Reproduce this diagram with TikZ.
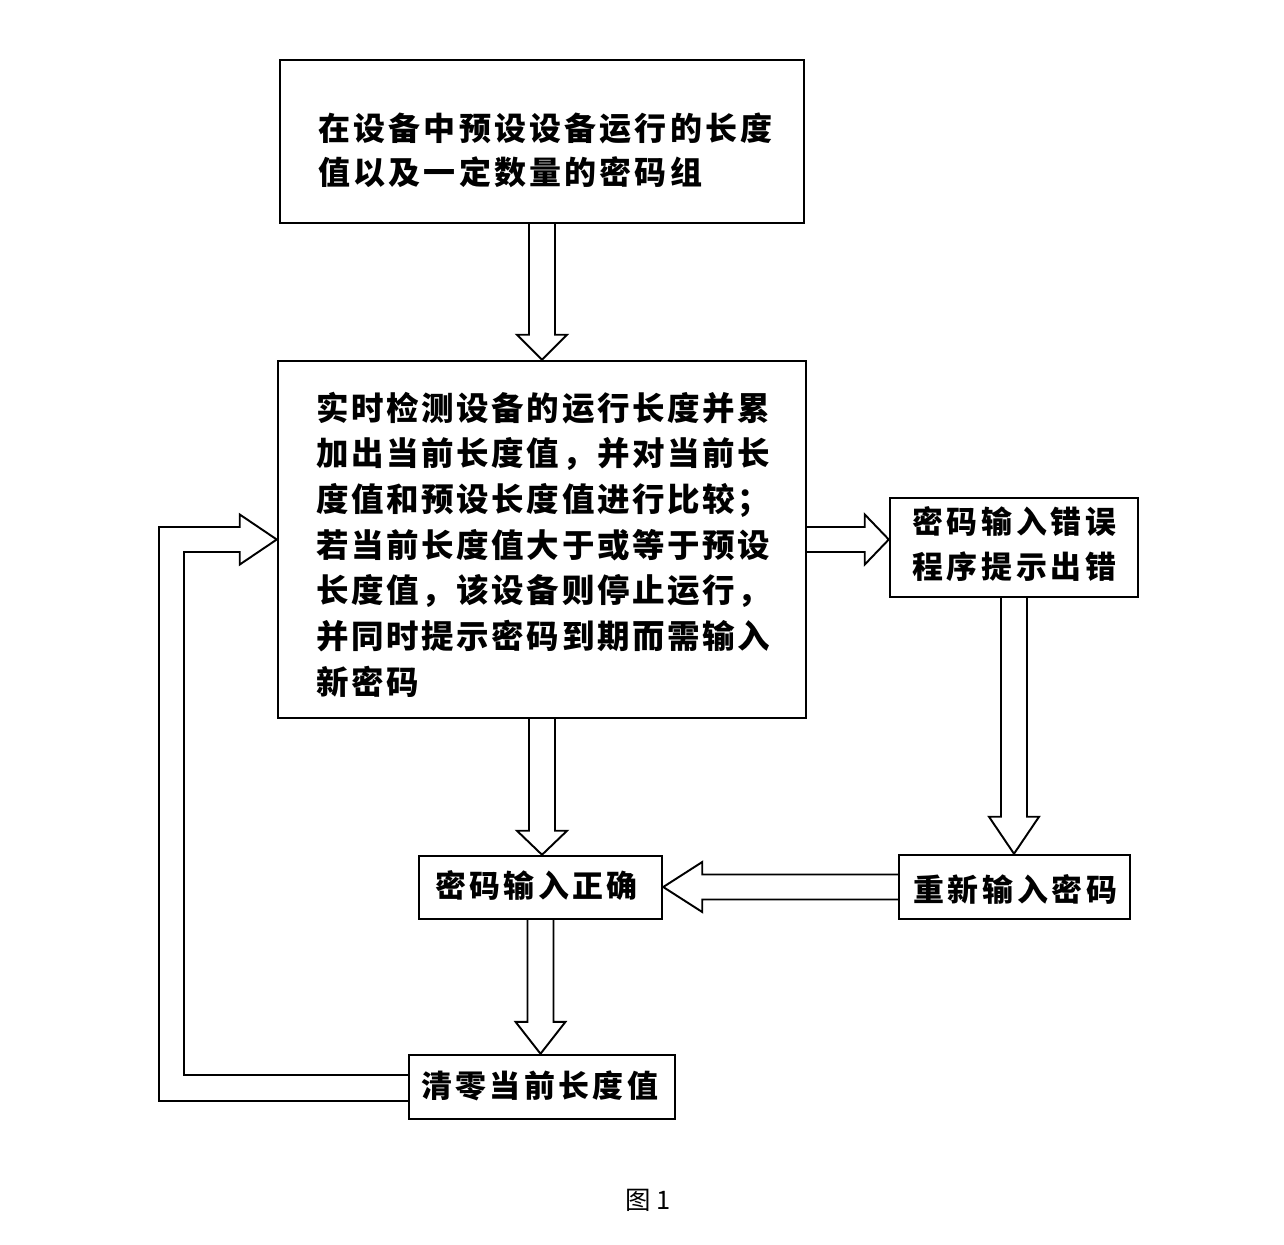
\documentclass[tikz,border=0pt]{standalone}
\usepackage{fontspec}
\newfontfamily\cjk{Noto Sans CJK SC}
\usetikzlibrary{calc}
\def\px{0.02cm}
\tikzset{
  box/.style={draw, line width=1.4pt, fill=white, inner sep=0pt},
  txt/.style={inner sep=0pt, anchor=west, align=left},
  harrow/.style={draw, line width=1.1pt, fill=white, line join=miter},
}
% vertical down hollow arrow: #1 start, #2 tip, #3 head length
\newcommand\darr[3]{%
  \draw[harrow] ($(#1)+(-13,0)$) -- ($(#2)+(-13,-#3)$) -- ($(#2)+(-25,-#3)$) -- (#2)
    -- ($(#2)+(25,-#3)$) -- ($(#2)+(13,-#3)$) -- ($(#1)+(13,0)$);}
% horizontal hollow arrow: #1 start, #2 tip, #3 signed head length (negative for rightwards)
\newcommand\harr[3]{%
  \draw[harrow] ($(#1)+(0,-12.5)$) -- ($(#2)+(#3,-12.5)$) -- ($(#2)+(#3,-25)$) -- (#2)
    -- ($(#2)+(#3,25)$) -- ($(#2)+(#3,12.5)$) -- ($(#1)+(0,12.5)$);}
\begin{document}
\begin{tikzpicture}[x=0.02cm, y=-0.02cm]
\useasboundingbox (0,0) rectangle (1284,1244);
% boxes
\node[box, minimum width={524*\px}, minimum height={163*\px}] (b1) at (542,141.5) {};
\node[box, minimum width={528*\px}, minimum height={357*\px}] (b2) at (542,539.5) {};
\node[box, minimum width={248*\px}, minimum height={99*\px}] (b3) at (1014,547.5) {};
\node[box, minimum width={231*\px}, minimum height={64*\px}] (b4) at (1014.5,887) {};
\node[box, minimum width={243*\px}, minimum height={63*\px}] (b5) at (540.5,887.5) {};
\node[box, minimum width={266*\px}, minimum height={64*\px}] (b6) at (542,1087) {};
% texts
\begin{scope}[every node/.append style={font=\cjk\bfseries}]
\node[txt, font=\cjk\bfseries\fontsize{18.2pt}{25pt}\selectfont\addfontfeature{LetterSpace=10}] (t1) at (318,150)
  {在设备中预设设备运行的长度\\值以及一定数量的密码组};
\node[txt, font=\cjk\bfseries\fontsize{18.5pt}{26pt}\selectfont\addfontfeature{LetterSpace=8}] (t2) at (316,544.5)
  {实时检测设备的运行长度并累\\加出当前长度值，并对当前长\\度值和预设长度值进行比较；\\若当前长度值大于或等于预设\\长度值，该设备则停止运行，\\并同时提示密码到期而需输入\\新密码};
\node[txt, font=\cjk\bfseries\fontsize{17.6pt}{25.6pt}\selectfont\addfontfeature{LetterSpace=12}] (t3) at (912,544.5)
  {密码输入错误\\程序提示出错};
\node[txt, font=\cjk\bfseries\fontsize{17.6pt}{25.6pt}\selectfont\addfontfeature{LetterSpace=12}] (t4) at (913,889) {重新输入密码};
\node[txt, font=\cjk\bfseries\fontsize{17.6pt}{25.6pt}\selectfont\addfontfeature{LetterSpace=11}] (t5) at (435,886) {密码输入正确};
\node[txt, font=\cjk\bfseries\fontsize{17.6pt}{25.6pt}\selectfont\addfontfeature{LetterSpace=11}] (t6) at (421,1086) {清零当前长度值};
\end{scope}
\node[inner sep=0pt, font=\cjk\fontsize{14.5pt}{16pt}\selectfont] (cap) at (648,1200) {图 1};
% arrows
\darr{b1.south}{b2.north}{25}
\darr{b2.south}{b2.south |- b5.north}{24}
\darr{b3.south}{b3.south |- b4.north}{37}
\darr{b5.south}{b5.south |- b6.north}{32}
\harr{b2.east}{b2.east -| b3.west}{-24}
\harr{b4.west}{b4.west -| b5.east}{39}
% loop arrow
\coordinate (lo) at (159,0);
\coordinate (li) at (184,0);
\draw[harrow] ($(b6.west)+(0,-12)$) -- ($(li |- b6.west)+(0,-12)$) -- ($(li |- b2.west)+(0,12.5)$)
  -- ($(b2.west)+(-37,12.5)$) -- ($(b2.west)+(-37,25)$) -- (b2.west) -- ($(b2.west)+(-37,-25)$)
  -- ($(b2.west)+(-37,-12.5)$) -- ($(lo |- b2.west)+(0,-12.5)$) -- ($(lo |- b6.west)+(0,14)$)
  -- ($(b6.west)+(0,14)$);
\end{tikzpicture}
\end{document}
